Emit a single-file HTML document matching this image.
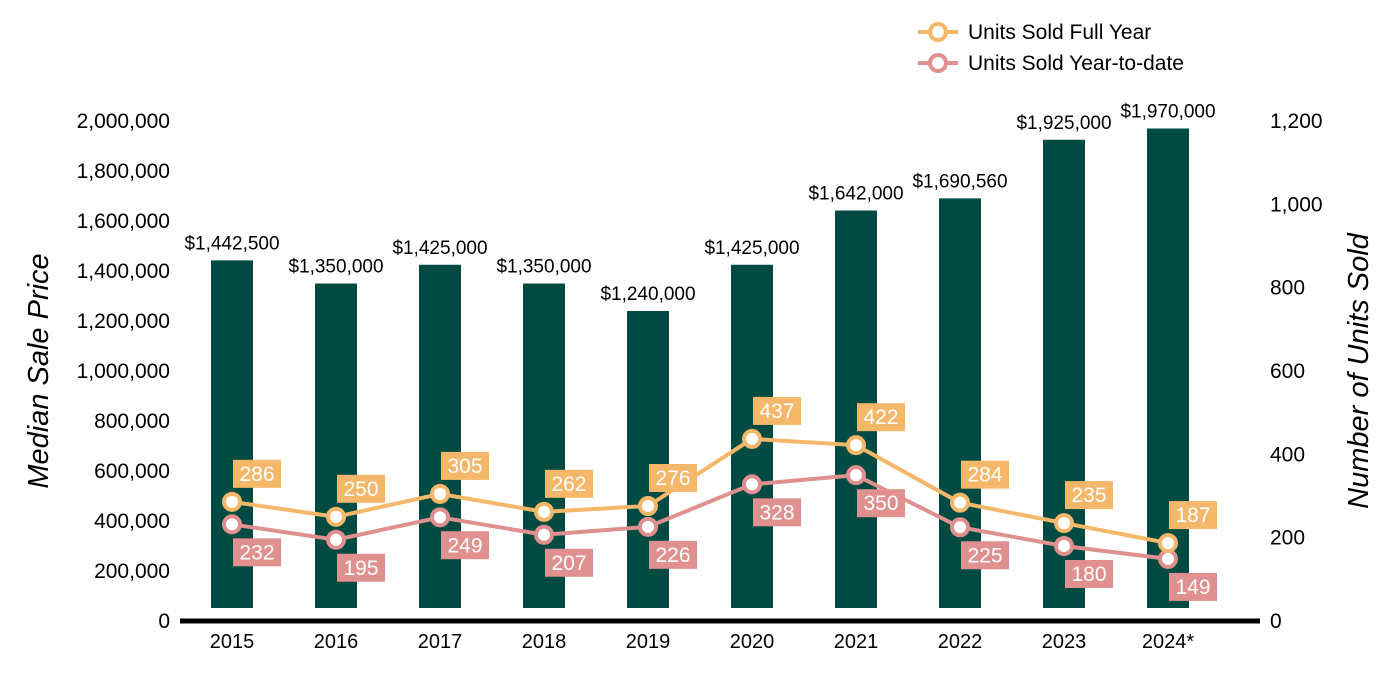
<!DOCTYPE html>
<html><head><meta charset="utf-8"><style>
html,body{margin:0;padding:0;background:#fff;}
svg{display:block;font-family:"Liberation Sans",Arial,sans-serif;}
</style></head><body>
<svg id="chart" width="1400" height="700" viewBox="0 0 1400 700"></svg>
<script>
const categories=["2015","2016","2017","2018","2019","2020","2021","2022","2023","2024*"];
const medianPrice=[1442500,1350000,1425000,1350000,1240000,1425000,1642000,1690560,1925000,1970000];
const priceLabels=["$1,442,500","$1,350,000","$1,425,000","$1,350,000","$1,240,000","$1,425,000","$1,642,000","$1,690,560","$1,925,000","$1,970,000"];
const unitsFull=[286,250,305,262,276,437,422,284,235,187];
const unitsYTD=[232,195,249,207,226,328,350,225,180,149];
const leftTicks=[0,200000,400000,600000,800000,1000000,1200000,1400000,1600000,1800000,2000000];
const rightTicks=[0,200,400,600,800,1000,1200];

const NS="http://www.w3.org/2000/svg";
const svg=document.getElementById('chart');
function el(t,a,txt){const e=document.createElementNS(NS,t);for(const k in a)e.setAttribute(k,a[k]);if(txt!==undefined)e.textContent=txt;svg.appendChild(e);return e;}
const y0=621;
const yL=v=>y0-v*500/2000000;
const yR=v=>y0-v*500/1200;
const xC=i=>232+i*104;
const ORANGE="#F5B86A",PINK="#E0908F",GREEN="#024B42";

leftTicks.forEach(v=>{
  const t=el('text',{x:170,y:yL(v)+7,'text-anchor':'end','font-size':21,fill:'#000'},v.toLocaleString('en-US'));
  
  
});
rightTicks.forEach(v=>{
  const t=el('text',{x:1270,y:yR(v)+7,'text-anchor':'start','font-size':21,fill:'#000'},v.toLocaleString('en-US'));
  
  
});
let t=el('text',{x:48,y:371,'text-anchor':'middle','font-size':29,'font-style':'italic',fill:'#000',transform:'rotate(-90 48 371)'},'Median Sale Price');


t=el('text',{x:1368,y:371,'text-anchor':'middle','font-size':29,'font-style':'italic',fill:'#000',transform:'rotate(-90 1368 371)'},'Number of Units Sold');



categories.forEach((c,i)=>{
  const b=el('rect',{x:xC(i)-21,y:yL(medianPrice[i]),width:42,height:608-yL(medianPrice[i]),fill:GREEN});
  
  
  const l=el('text',{x:xC(i),y:yL(medianPrice[i])-11,'text-anchor':'middle','font-size':19,fill:'#000'},priceLabels[i]);
  
  
  const x=el('text',{x:xC(i),y:648,'text-anchor':'middle','font-size':20,fill:'#000'},c);
  
  
});
const ax=el('line',{x1:180,y1:y0,x2:1260,y2:y0,stroke:'#000','stroke-width':5});



function series(vals,color,name,dy){
  const p=el('polyline',{points:vals.map((v,i)=>xC(i)+','+yR(v)).join(' '),fill:'none',stroke:color,'stroke-width':4});
  
  
  vals.forEach((v,i)=>{
    const m=el('circle',{cx:xC(i),cy:yR(v),r:8,fill:'#fff',stroke:color,'stroke-width':4});
    
    
  });
  vals.forEach((v,i)=>{
    const bx=xC(i)+1,by=yR(v)+dy;
    const r=el('rect',{x:bx,y:by,width:48,height:28,fill:color});
    
    
    const tt=el('text',{x:bx+24,y:by+21,'text-anchor':'middle','font-size':21,fill:'#fff'},String(v));
    
    
  });
}
series(unitsYTD,PINK,'units-ytd',14);
series(unitsFull,ORANGE,'units-full',-42);

function legend(y,color,label,name){
  const l=el('line',{x1:918,y1:y,x2:958,y2:y,stroke:color,'stroke-width':4});
  
  
  const c=el('circle',{cx:938,cy:y,r:8,fill:'#fff',stroke:color,'stroke-width':4});
  
  
  const t=el('text',{x:968,y:y+7,'font-size':21,fill:'#000'},label);
  
  
}
legend(32,ORANGE,'Units Sold Full Year','units-full');
legend(63,PINK,'Units Sold Year-to-date','units-ytd');
</script>
</body></html>
